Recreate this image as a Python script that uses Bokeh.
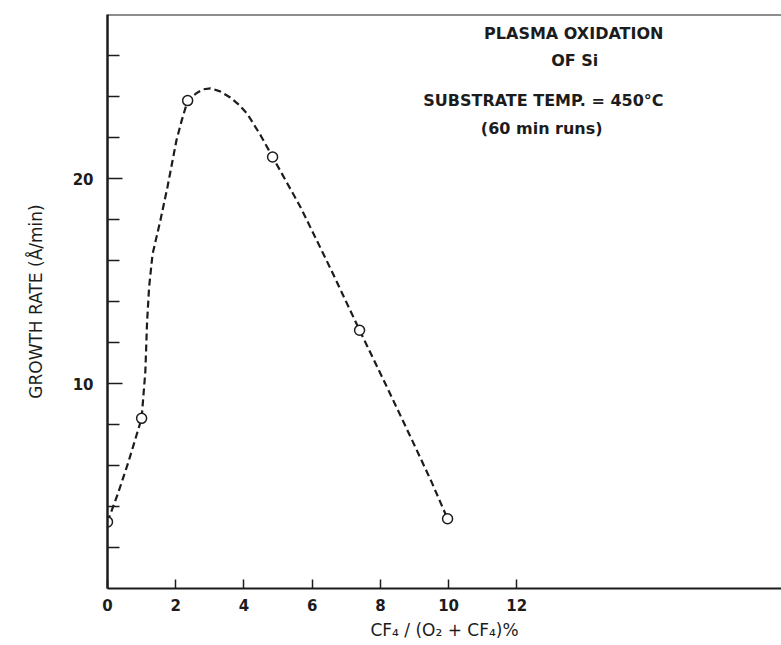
from bokeh.plotting import figure
from bokeh.models import Range1d, FixedTicker, Span, Label, ColumnDataSource
from bokeh.embed import file_html
from bokeh.resources import INLINE

# ---- data ----
cf4_pct = [0.0, 1.0, 2.35, 4.84, 7.39, 9.97]
growth_rate = [3.25, 8.3, 23.8, 21.05, 12.6, 3.4]

# hand-drawn dashed guide curve
curve_x = [0.0, 0.3, 0.6, 1.0, 1.11, 1.16, 1.22, 1.32, 1.55, 1.76, 2.02, 2.17,
           2.35, 2.6, 2.8, 3.02, 3.3, 3.6, 3.85, 4.1, 4.49, 4.84, 5.66, 6.54,
           7.39, 8.2, 8.94, 9.5, 9.97]
curve_y = [3.25, 4.6, 6.1, 8.3, 10.6, 13.0, 14.7, 16.3, 17.95, 19.6, 21.85, 22.8,
           23.8, 24.15, 24.35, 24.4, 24.25, 23.95, 23.6, 23.15, 22.1, 21.05, 18.6,
           15.6, 12.6, 9.8, 7.2, 5.2, 3.4]

x_ticks = [0, 2, 4, 6, 8, 10, 12]
y_major_ticks = [10, 20]
y_minor_ticks = [2, 4, 6, 8, 12, 14, 16, 18, 22, 24, 26]

INK = "#1c1c1c"
FONT = "DejaVu Sans"

p = figure(width=781, height=645, output_backend="svg", toolbar_location=None,
           x_range=Range1d(0, 19.76), y_range=Range1d(0, 28),
           min_border_left=107, min_border_right=0, min_border_top=14,
           min_border_bottom=57)
p.outline_line_color = None
p.xgrid.visible = False
p.ygrid.visible = False
p.background_fill_color = "white"
p.border_fill_color = "white"

# x axis
xa = p.xaxis[0]
xa.ticker = FixedTicker(ticks=x_ticks)
xa.axis_line_color = INK
xa.axis_line_width = 2
xa.major_tick_in = 9
xa.major_tick_out = 0
xa.major_tick_line_color = INK
xa.major_tick_line_width = 1.5
xa.minor_tick_line_color = None
xa.major_label_standoff = 10
xa.major_label_text_font = FONT
xa.major_label_text_font_size = "15px"
xa.major_label_text_font_style = "bold"
xa.major_label_text_color = INK
xa.axis_label = "CF\u2084 / (O\u2082 + CF\u2084)%"
xa.axis_label_standoff = 6
xa.axis_label_text_font = FONT
xa.axis_label_text_font_size = "17px"
xa.axis_label_text_font_style = "normal"
xa.axis_label_text_color = INK

# y axis
ya = p.yaxis[0]
ya.ticker = FixedTicker(ticks=y_major_ticks, minor_ticks=y_minor_ticks)
ya.axis_line_color = INK
ya.axis_line_width = 2.5
ya.major_tick_in = 15
ya.major_tick_out = 0
ya.major_tick_line_color = INK
ya.major_tick_line_width = 1.5
ya.minor_tick_in = 12
ya.minor_tick_out = 0
ya.minor_tick_line_color = INK
ya.minor_tick_line_width = 1.5
ya.major_label_standoff = 14
ya.major_label_text_font = FONT
ya.major_label_text_font_size = "15px"
ya.major_label_text_font_style = "bold"
ya.major_label_text_color = INK
ya.axis_label = "GROWTH RATE (\u00c5/min)"
ya.axis_label_standoff = 24
ya.axis_label_text_font = FONT
ya.axis_label_text_font_size = "17px"
ya.axis_label_text_font_style = "normal"
ya.axis_label_text_color = INK

# top frame line
p.add_layout(Span(location=28, dimension="width", line_color=INK, line_width=2))

# dashed curve and open circles
p.line(curve_x, curve_y, line_color=INK, line_width=2.2, line_dash="7 4")
src = ColumnDataSource(dict(x=cf4_pct, y=growth_rate))
p.scatter("x", "y", source=src, marker="circle", size=10, fill_color="white",
          line_color=INK, line_width=1.5)

# annotation text
for txt, x, y in [("PLASMA OXIDATION", 13.67, 27.05),
                  ("OF Si", 13.7, 25.75),
                  ("SUBSTRATE TEMP. = 450\u00b0C", 12.78, 23.8),
                  ("(60 min runs)", 12.73, 22.45)]:
    p.add_layout(Label(x=x, y=y, text=txt, text_align="center",
                       text_baseline="middle", text_font=FONT,
                       text_font_size="16px", text_font_style="bold",
                       text_color=INK))

open("out.html", "w").write(file_html(p, INLINE))
